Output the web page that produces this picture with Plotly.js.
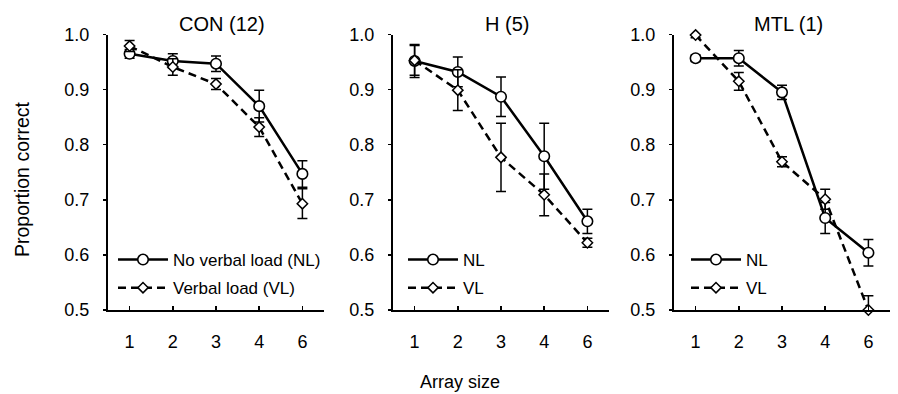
<!DOCTYPE html>
<html>
<head>
<meta charset="utf-8">
<script src="https://cdn.plot.ly/plotly-3.0.1.min.js"></script>
<style>html,body{margin:0;padding:0;background:#fff;}#chart{width:898px;height:394px;}</style>
</head>
<body>
<div id="chart"></div>
<script>
// Categories (array size)
const arraySizes = ['1', '2', '3', '4', '6'];
const panelTitles = ['CON (12)', 'H (5)', 'MTL (1)'];

// CON (12)
const conNL = [0.965, 0.952, 0.947, 0.870, 0.747];
const conNLerr = [0.008, 0.013, 0.014, 0.029, 0.024];
const conVL = [0.979, 0.941, 0.910, 0.832, 0.693];
const conVLerr = [0.010, 0.015, 0.010, 0.017, 0.027];

// H (5)
const hNL = [0.952, 0.932, 0.887, 0.779, 0.661];
const hNLerr = [0.030, 0.027, 0.036, 0.060, 0.022];
const hVL = [0.953, 0.899, 0.777, 0.709, 0.622];
const hVLerr = [0.027, 0.037, 0.062, 0.038, 0.008];

// MTL (1)
const mtlNL = [0.957, 0.957, 0.895, 0.667, 0.604];
const mtlNLerr = [0.006, 0.014, 0.013, 0.028, 0.024];
const mtlVL = [0.999, 0.915, 0.769, 0.701, 0.500];
const mtlVLerr = [0.005, 0.016, 0.009, 0.018, 0.026];
const mtlVLerrMinus = [0.005, 0.016, 0.009, 0.018, 0.0];

const legendNames = [
  ['No verbal load (NL)', 'Verbal load (VL)'],
  ['NL', 'VL'],
  ['NL', 'VL']
];

const FONT = 'Liberation Sans, Arial, Helvetica, sans-serif';
const W = 898, H = 394;

const panels = [
  {nl: conNL, nlErr: conNLerr, vl: conVL, vlErr: conVLerr, vlErrMinus: conVLerr},
  {nl: hNL, nlErr: hNLerr, vl: hVL, vlErr: hVLerr, vlErrMinus: hVLerr},
  {nl: mtlNL, nlErr: mtlNLerr, vl: mtlVL, vlErr: mtlVLerr, vlErrMinus: mtlVLerrMinus}
];

// pixel layout of the three panels
const xPix = [[108, 324], [393, 609], [674, 890]];
const yTopPx = 34.5, yBotPx = 310;
const legendXpx = [113, 403, 686];

const traces = [];
const layout = {
  width: W, height: H,
  margin: {l: 0, r: 0, t: 0, b: 0},
  paper_bgcolor: '#fff', plot_bgcolor: '#fff',
  font: {family: FONT, color: '#000', size: 17},
  showlegend: true,
  annotations: [],
};

panels.forEach((p, i) => {
  const ax = i === 0 ? '' : String(i + 1);
  const xa = 'x' + ax, ya = 'y' + ax;
  const lg = i === 0 ? 'legend' : 'legend' + (i + 1);
  traces.push({
    x: arraySizes, y: p.nl, xaxis: xa, yaxis: ya, type: 'scatter', mode: 'lines+markers',
    name: legendNames[i][0], legend: lg, legendgroup: 'nl' + i, cliponaxis: false,
    line: {color: '#000', width: 2.5},
    marker: {symbol: 'circle', size: 10.5, color: '#fff', line: {color: '#000', width: 1.6}},
    error_y: {type: 'data', array: p.nlErr, visible: true, color: '#000', thickness: 1.5, width: 5}
  });
  traces.push({
    x: arraySizes, y: p.vl, xaxis: xa, yaxis: ya, type: 'scatter', mode: 'lines+markers',
    name: legendNames[i][1], legend: lg, legendgroup: 'vl' + i, cliponaxis: false,
    line: {color: '#000', width: 2.5, dash: '8px,5px'},
    marker: {symbol: 'diamond', size: 8, color: '#fff', line: {color: '#000', width: 1.5}},
    error_y: {type: 'data', array: p.vlErr, arrayminus: p.vlErrMinus, symmetric: false, visible: true, color: '#000', thickness: 1.5, width: 5}
  });

  layout['xaxis' + ax] = {
    domain: [xPix[i][0] / W, xPix[i][1] / W],
    anchor: ya, type: 'category', range: [-0.5, 4.5],
    showline: true, linecolor: '#000', linewidth: 2,
    ticks: 'inside', ticklen: 4, tickwidth: 1.5, tickcolor: '#000',
    showgrid: false, zeroline: false, fixedrange: true,
    tickfont: {family: FONT, size: 18, color: '#000'},
    ticklabelstandoff: 14
  };
  layout['yaxis' + ax] = {
    domain: [1 - yBotPx / H, 1 - yTopPx / H],
    anchor: xa, range: [0.5, 1.0],
    tickvals: [0.5, 0.6, 0.7, 0.8, 0.9, 1.0],
    ticktext: ['0.5', '0.6', '0.7', '0.8', '0.9', '1.0'],
    showline: true, linecolor: '#000', linewidth: 2,
    ticks: 'outside', ticklen: 3, tickwidth: 1.5, tickcolor: '#000',
    showgrid: false, zeroline: false, fixedrange: true,
    tickfont: {family: FONT, size: 18, color: '#000'},
    ticklabelstandoff: 10
  };
  layout[lg] = {
    x: legendXpx[i] / W, xanchor: 'left',
    y: 1 - 242 / H, yanchor: 'top',
    bgcolor: 'rgba(0,0,0,0)', borderwidth: 0,
    font: {family: FONT, size: 17, color: '#000'},
    traceorder: 'grouped', tracegroupgap: 3, itemwidth: 50
  };
  layout.annotations.push({
    text: panelTitles[i], xref: 'paper', yref: 'paper',
    x: (xPix[i][0] + xPix[i][1]) / 2 / W + 6 / W, y: 1 - 24 / H,
    xanchor: 'center', yanchor: 'middle', showarrow: false,
    font: {family: FONT, size: 20, color: '#000'}
  });
});

layout.annotations.push({
  text: 'Array size', xref: 'paper', yref: 'paper',
  x: 460 / W, y: 1 - 382 / H, xanchor: 'center', yanchor: 'middle', showarrow: false,
  font: {family: FONT, size: 18, color: '#000'}
});
layout.annotations.push({
  text: 'Proportion correct', xref: 'paper', yref: 'paper', textangle: -90,
  x: 22 / W, y: 1 - 179 / H, xanchor: 'center', yanchor: 'middle', showarrow: false,
  font: {family: FONT, size: 19.5, color: '#000'}
});

Plotly.newPlot('chart', traces, layout, {displayModeBar: false, staticPlot: true});
</script>
</body>
</html>
